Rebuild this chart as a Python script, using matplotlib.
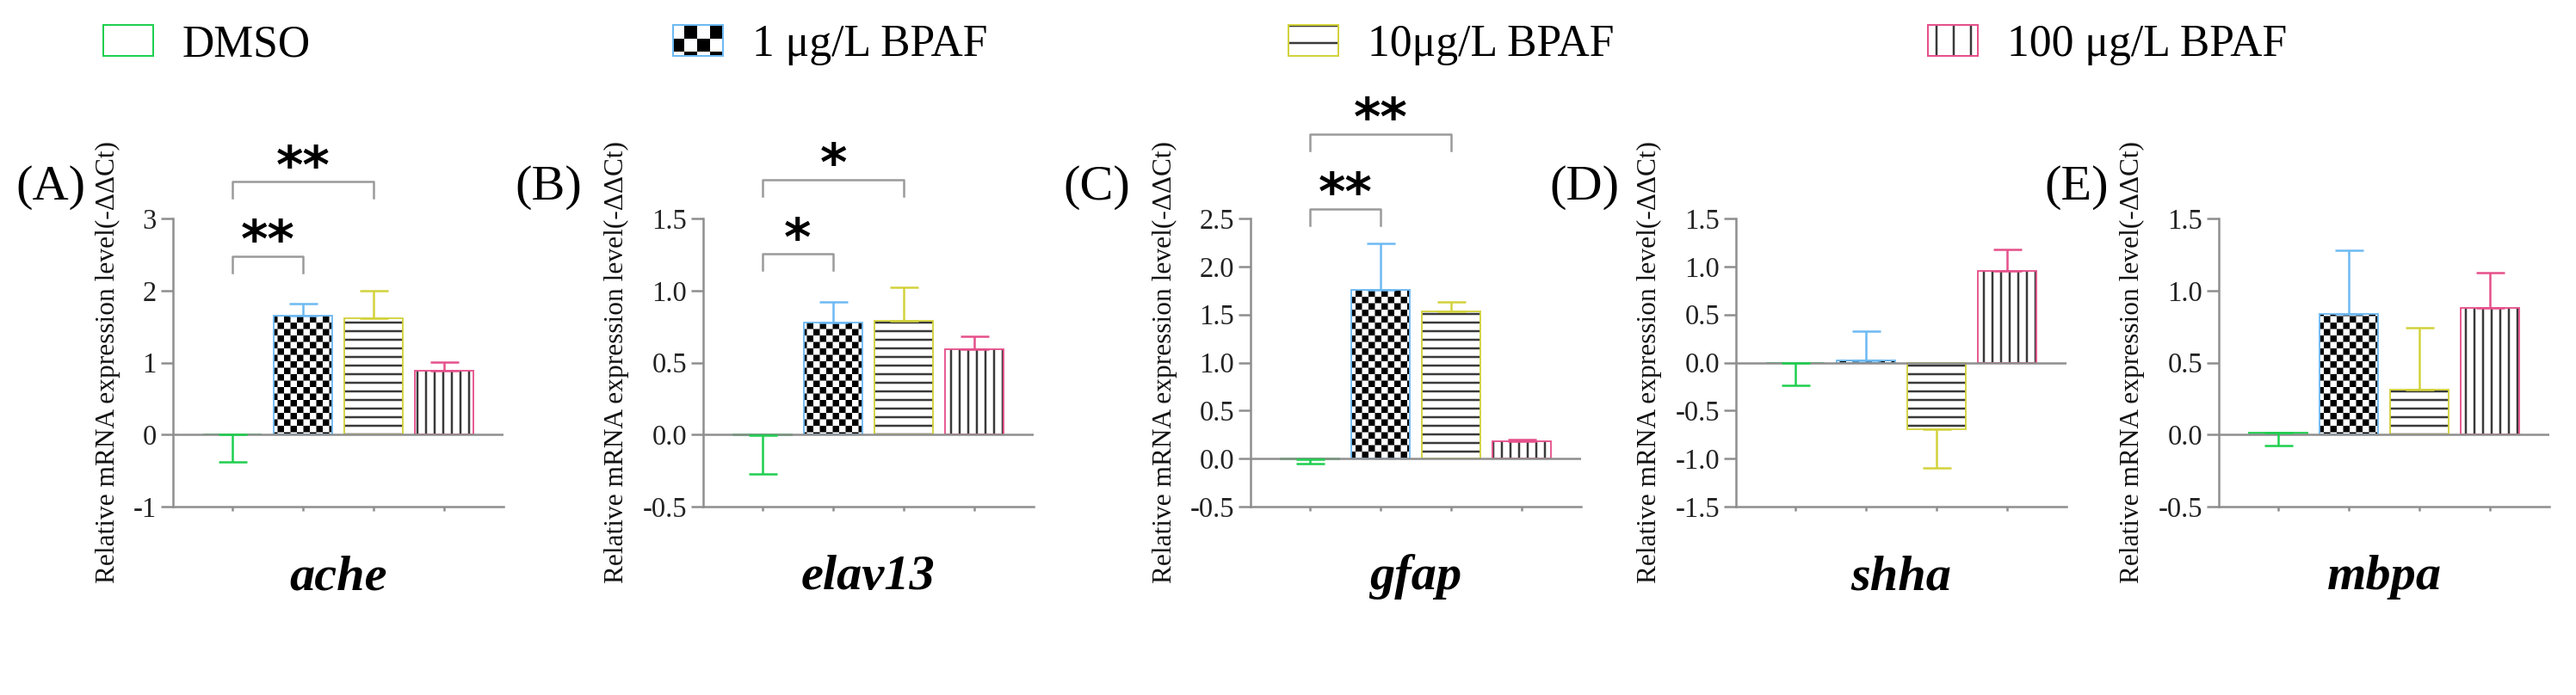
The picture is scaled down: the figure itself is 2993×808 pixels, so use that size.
import numpy as np
import matplotlib
matplotlib.use("Agg")
import matplotlib.pyplot as plt
import matplotlib.hatch as mhatch
from matplotlib.path import Path
from matplotlib.patches import Rectangle
from matplotlib.legend_handler import HandlerTuple
from matplotlib.ticker import FormatStrFormatter

# ---- data ----
groups = ["DMSO", "1 μg/L BPAF", "10μg/L BPAF", "100 μg/L BPAF"]
genes = ["ache", "elav13", "gfap", "shha", "mbpa"]
tags = ["(A)", "(B)", "(C)", "(D)", "(E)"]

# mean -ddCt for DMSO, 1, 10, 100 ug/L
ache_mean = [0.0, 1.65, 1.62, 0.89]
elav13_mean = [-0.005, 0.78, 0.79, 0.595]
gfap_mean = [-0.01, 1.76, 1.53, 0.185]
shha_mean = [-0.005, 0.02, -0.69, 0.95]
mbpa_mean = [0.012, 0.84, 0.31, 0.88]

# one-sided error bars, sign gives the direction
ache_err = [-0.38, 0.17, 0.38, 0.12]
elav13_err = [-0.27, 0.14, 0.23, 0.085]
gfap_err = [-0.04, 0.48, 0.105, 0.015]
shha_err = [-0.23, 0.31, -0.41, 0.23]
mbpa_err = [-0.09, 0.44, 0.43, 0.245]

# significance vs DMSO: (group a, group b, label)
ache_sig = [(0, 1, "**"), (0, 2, "**")]
elav13_sig = [(0, 1, "*"), (0, 2, "*")]
gfap_sig = [(0, 1, "**"), (0, 2, "**")]
shha_sig = []
mbpa_sig = []

means = [ache_mean, elav13_mean, gfap_mean, shha_mean, mbpa_mean]
errs = [ache_err, elav13_err, gfap_err, shha_err, mbpa_err]
sigs = [ache_sig, elav13_sig, gfap_sig, shha_sig, mbpa_sig]

# ---- styles / layout ----
edge_cols = ["#1fcf4f", "#6db9f2", "#d2d23c", "#e5508a"]
hatch_cols = ["white", "black", "#3a3a3a", "#3a3a3a"]
bar_hatch = [None, "****", "--", "||"]
leg_hatch = [None, "**", "-", "|"]
grey = "#8e8e8e"

W, H, DPI = 2993, 808, 120
ax_left_px = [201, 817, 1453, 2017, 2578]
ax_w_px, ax_top_px, ax_bot_px = 384, 254, 589
ylims = [(-1, 3), (-0.5, 1.5), (-0.5, 2.5), (-1.5, 1.5), (-0.5, 1.5)]
ysteps = [1, 0.5, 0.5, 0.5, 0.5]
yfmts = ["%d", "%.1f", "%.1f", "%.1f", "%.1f"]
tag_x_px = [18, 598, 1235, 1800, 2375]
brk_tops = [[2.48, 3.51], [1.256, 1.77], [2.60, 3.38], [], []]
leg_x_px = [120, 782, 1497, 2240]


# checkerboard fill as a hatch type (takes the place of the unused '*' stars)
class CheckerHatch(mhatch.HatchPatternBase):
    def __init__(self, hatch, density):
        self.n = hatch.count("*") * 4
        self.num_vertices = (self.n * self.n // 2) * 5

    def set_vertices_and_codes(self, vertices, codes):
        s = 1.0 / self.n
        d = (plt.rcParams["hatch.linewidth"] / 2) / 72.0
        k = 0
        for i in range(self.n):
            for j in range(self.n):
                if (i + j) % 2 == 0:
                    x0, y0, x1, y1 = j * s + d, i * s + d, (j + 1) * s - d, (i + 1) * s - d
                    vertices[k:k + 5] = [(x0, y0), (x1, y0), (x1, y1), (x0, y1), (x0, y0)]
                    codes[k:k + 5] = [Path.MOVETO, Path.LINETO, Path.LINETO,
                                      Path.LINETO, Path.CLOSEPOLY]
                    k += 5


mhatch._hatch_types = [t for t in mhatch._hatch_types if t is not mhatch.Stars] + [CheckerHatch]

plt.rcParams["font.family"] = ["Liberation Serif", "DejaVu Serif"]
plt.rcParams["axes.unicode_minus"] = False
plt.rcParams["hatch.linewidth"] = 1.5

fig = plt.figure(figsize=(W / DPI, H / DPI), dpi=DPI)
x = np.arange(len(groups))

for p in range(len(genes)):
    ax = fig.add_axes([ax_left_px[p] / W, 1 - ax_bot_px / H, ax_w_px / W,
                       (ax_bot_px - ax_top_px) / H])
    m = np.array(means[p])
    e = np.array(errs[p])
    for k in range(len(groups)):
        ax.bar(x[k], m[k], width=0.82, color="white", edgecolor=hatch_cols[k],
               linewidth=0, hatch=bar_hatch[k], zorder=2)
    ax.bar(x, m, width=0.82, fill=False, edgecolor=edge_cols, linewidth=1.1, zorder=3)
    for k in range(len(groups)):
        lo = max(-e[k], 0)
        up = max(e[k], 0)
        ax.errorbar(x[k], m[k], yerr=[[lo], [up]], fmt="none", ecolor=edge_cols[k],
                    elinewidth=1.5, capsize=9.9, capthick=1.5, zorder=4)
    ax.axhline(0, color=grey, lw=1.5, zorder=3.5)

    ymin, ymax = ylims[p]
    ax.set_ylim(ymin, ymax)
    ax.set_xlim(-0.84, 3.84)
    ax.set_yticks(np.arange(ymin, ymax + ysteps[p] / 2, ysteps[p]))
    ax.yaxis.set_major_formatter(FormatStrFormatter(yfmts[p]))
    ax.set_xticks(x)
    ax.set_xticklabels([])
    for s in ["top", "right"]:
        ax.spines[s].set_visible(False)
    for s in ["left", "bottom"]:
        ax.spines[s].set_color(grey)
        ax.spines[s].set_linewidth(1.5)
    ax.tick_params(axis="y", length=8.4, width=1.5, color=grey, labelsize=19.5,
                   labelcolor="#222222", pad=3)
    ax.tick_params(axis="x", length=3, width=1.5, color=grey)
    ax.set_ylabel("Relative mRNA expression level(-ΔΔCt)", fontsize=18.8,
                  labelpad=9, color="#111111")
    ax.text(0.5, -0.2866, genes[p], transform=ax.transAxes, ha="center",
            va="baseline", fontsize=35, fontweight="bold", style="italic")

    # significance brackets
    px_per_unit = (ax_bot_px - ax_top_px) / (ymax - ymin)
    drop = 19 / px_per_unit
    for (a, b, lab), top in zip(sigs[p], brk_tops[p]):
        ax.plot([x[a], x[a], x[b], x[b]], [top - drop, top, top, top - drop],
                color="#9a9a9a", lw=1.5, clip_on=False)
        ax.annotate(lab, xy=((x[a] + x[b]) / 2, top), xytext=(0, -1),
                    textcoords="offset points", ha="center", va="baseline",
                    fontsize=36, fontweight="bold", family="DejaVu Sans",
                    annotation_clip=False)

    fig.text(tag_x_px[p] / W, 1 - 232 / H, tags[p], fontsize=35, ha="left",
             va="baseline")

# legend, one entry per group
for k in range(len(groups)):
    base = Rectangle((0, 0), 1, 1, facecolor="white", edgecolor=hatch_cols[k],
                     linewidth=0, hatch=leg_hatch[k])
    rim = Rectangle((0, 0), 1, 1, fill=False, edgecolor=edge_cols[k], linewidth=1.2)
    fs = 31
    em = fs * DPI / 72
    fig.legend([(base, rim)], [groups[k]], loc="center left",
               bbox_to_anchor=(leg_x_px[k] / W, 1 - 52 / H), frameon=False,
               fontsize=fs, handlelength=58 / em, handleheight=37 / em,
               handletextpad=0.65, borderpad=0, borderaxespad=0,
               handler_map={tuple: HandlerTuple(ndivide=1, pad=0)})

fig.savefig("out.png", dpi=DPI, facecolor="white")
